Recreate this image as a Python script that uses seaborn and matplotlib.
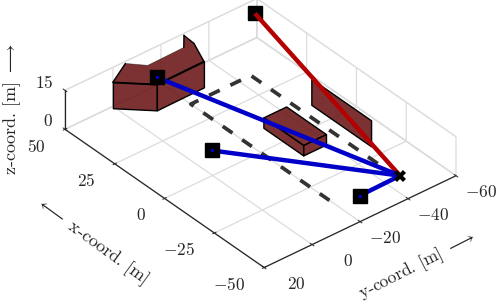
import matplotlib
matplotlib.use("Agg")
import numpy as np
import matplotlib.pyplot as plt
import seaborn as sns
from mpl_toolkits.mplot3d import proj3d
from mpl_toolkits.mplot3d.art3d import Poly3DCollection

sns.set_style("white")
plt.rcParams['font.family'] = ['cmr10', 'DejaVu Sans']
plt.rcParams['mathtext.fontset'] = 'cm'
plt.rcParams['axes.unicode_minus'] = False
plt.rcParams['axes.formatter.use_mathtext'] = True

x_ticks = [-50, -25, 0, 25, 50]
y_ticks = [-60, -40, -20, 0, 20]
z_ticks = [0, 15]

# building faces: (x, y, z)
b1_top_x = [49.2, 54.7, 49.3, 49.6, 54.7, 49.2, 39.5, 39.3]
b1_top_y = [0.7, -9.1, -13.9, -29.2, -33.5, -33.1, -29.2, -9.4]
b1_height = 10
b2_x = [10, 10, -10, -10]
b2_y = [-29.5, -39, -39, -29.5]
b2_height = 4
wall_x = [10, -20]
wall_y = [-49.5, -49.5]
wall_height = 10

route_x = [-38.5, 35, 35, -38.5]
route_y = [-45, -45, -20, -20]

hub = (-38.5, -46.2, 0)
blue_x = [36.7, 9.1, -40.5]
blue_y = [-7.3, -7.4, -27.9]
blue_z = [15, 1.5, 1.5]
red_pt = (44, -54.2, 15)

fill = (0.433, 0.107, 0.107, 0.9)
blue = '#0000c8'
red = '#b40000'
ink = '#262626'

fig = plt.figure(figsize=(4.98, 3.04), dpi=100)
ax = fig.add_axes([0, 0, 304 / 498, 1], projection='3d', proj_type='ortho')
ax.computed_zorder = False
ax.view_init(elev=35.2, azim=140.3)
ax.set_xlim(-50, 50)
ax.set_ylim(-60, 20)
ax.set_zlim(0, 15)
ax.set_box_aspect((100, 80, 15 * 1.02))

for axis in (ax.xaxis, ax.yaxis, ax.zaxis):
    axis.pane.fill = False
    axis.pane.set_edgecolor('#dcdcdc')
    axis.line.set_color(ink)
    axis.line.set_linewidth(0.9)
    axis._axinfo['grid'].update(color='#dcdcdc', linewidth=0.9, linestyle='-')
    axis._axinfo['tick'].update(inward_factor=0.12, outward_factor=0.12, linewidth={True: 0.7, False: 0.7})
ax.grid(True)
ax.zaxis._axinfo['juggled'] = (1, 2, 0)

ax.set_xticks(x_ticks)
ax.set_yticks(y_ticks)
ax.set_zticks(z_ticks)
ax.set_xticklabels([])
ax.set_yticklabels([])
ax.set_zticklabels([])


def add_face(verts, z, edge='k'):
    ax.add_collection3d(Poly3DCollection([verts], facecolors=[fill], edgecolors=edge, linewidths=1.0, zorder=z))


def add_edge(p, q, lw=1.0, alpha=1.0):
    ax.plot([p[0], q[0]], [p[1], q[1]], [p[2], q[2]], color='k', lw=lw, alpha=alpha, zorder=3.5)


top1 = [(a, b, b1_height) for a, b in zip(b1_top_x, b1_top_y)]
add_face(top1, 3, 'none')
add_face([top1[0], top1[7], (top1[7][0], top1[7][1], 0), (top1[0][0], top1[0][1], 0)], 3)
add_face([top1[7], top1[6], (top1[6][0], top1[6][1], 0), (top1[7][0], top1[7][1], 0)], 3)
for i in range(len(top1)):
    soft = i in (1, 2)
    add_edge(top1[i], top1[(i + 1) % len(top1)], lw=0.6 if soft else 1.0, alpha=0.35 if soft else 1.0)

top2 = [(a, b, b2_height) for a, b in zip(b2_x, b2_y)]
add_face(top2, 3)
add_face([top2[0], top2[3], (b2_x[3], b2_y[3], 0), (b2_x[0], b2_y[0], 0)], 3)
add_face([top2[2], top2[3], (b2_x[3], b2_y[3], 0), (b2_x[2], b2_y[2], 0)], 3)

add_face([(wall_x[0], wall_y[0], 0), (wall_x[1], wall_y[1], 0),
          (wall_x[1], wall_y[1], wall_height), (wall_x[0], wall_y[0], wall_height)], 3)

ax.plot(route_x, route_y, [0] * 4, color='#333333', lw=2.7, dashes=(3.15, 3.15), zorder=4)

# red link
ax.plot([red_pt[0]], [red_pt[1]], [red_pt[2]], 's', color='k', ms=10.4, zorder=5)
ax.plot([red_pt[0], hub[0]], [red_pt[1], hub[1]], [red_pt[2], hub[2]], color=red, lw=3.2,
        solid_capstyle='butt', zorder=6)
# blue links
for a, b, c in zip(blue_x, blue_y, blue_z):
    ax.plot([a, hub[0]], [b, hub[1]], [c, hub[2]], color=blue, lw=3.2, solid_capstyle='butt', zorder=7)
ax.plot(blue_x, blue_y, blue_z, ls='', marker='s', color='k', ms=10.4, zorder=8)
ax.plot(blue_x, blue_y, blue_z, ls='', marker='s', color=blue, ms=1.3, zorder=9)
ax.plot([hub[0]], [hub[1]], [hub[2]], 'X', color='k', ms=8.5, mew=0, zorder=10)


def to_px(p):
    a, b, _ = proj3d.proj_transform(p[0], p[1], p[2], ax.get_proj())
    u, v = ax.transData.transform((a, b))
    return np.array([u, 304 - v])


# fit the box onto the pixel corners of the reference
for _ in range(3):
    fig.canvas.draw()
    p0, p1 = to_px((50, 20, 0)), to_px((-50, -60, 0))
    q0, q1 = np.array([65.0, 130.0]), np.array([456.0, 175.0])
    s = (q1[0] - q0[0]) / (p1[0] - p0[0])
    pos = ax.get_position()
    w = pos.width * s
    h = pos.height * s
    c = np.array([pos.x0 * 498 + pos.width * 249, 304 - (pos.y0 * 304 + pos.height * 152)])
    c = c + (q0 + q1) / 2 - (c + ((p0 + p1) / 2 - c) * s)
    ax.set_position([(c[0] - w * 249) / 498, (304 - c[1] - h * 152) / 304, w, h])
fig.canvas.draw()


# tick labels placed from the projected tick, mplot3d pad only moves along the grid
def tick_label(p, value, dx, dy):
    px = to_px(p)
    fig.text((px[0] + dx) / 498, 1 - (px[1] + dy) / 304, '$%d$' % value, ha='right', va='center',
             fontsize=12.5, color=ink)


for t in x_ticks:
    tick_label((t, 20, 0), t, -19, 17)
for t in y_ticks:
    tick_label((-50, t, 0), t, 41, 16)
for t in z_ticks:
    tick_label((50, 20, t), t, -12, -8)

fig.text(91 / 498, 1 - 241 / 304, r'$\longleftarrow$ x-coord. [m]', rotation=-36, rotation_mode='anchor',
         ha='center', va='center', fontsize=13, color=ink)
fig.text(418 / 498, 1 - 266 / 304, r'y-coord. [m] $\longrightarrow$', rotation=27, rotation_mode='anchor',
         ha='center', va='center', fontsize=12.6, color=ink)
fig.text(12 / 498, 1 - 109 / 304, r'z-coord. [m] $\longrightarrow$', rotation=90, rotation_mode='anchor',
         ha='center', va='center', fontsize=13, color=ink)

fig.savefig('out.png', dpi=100)
